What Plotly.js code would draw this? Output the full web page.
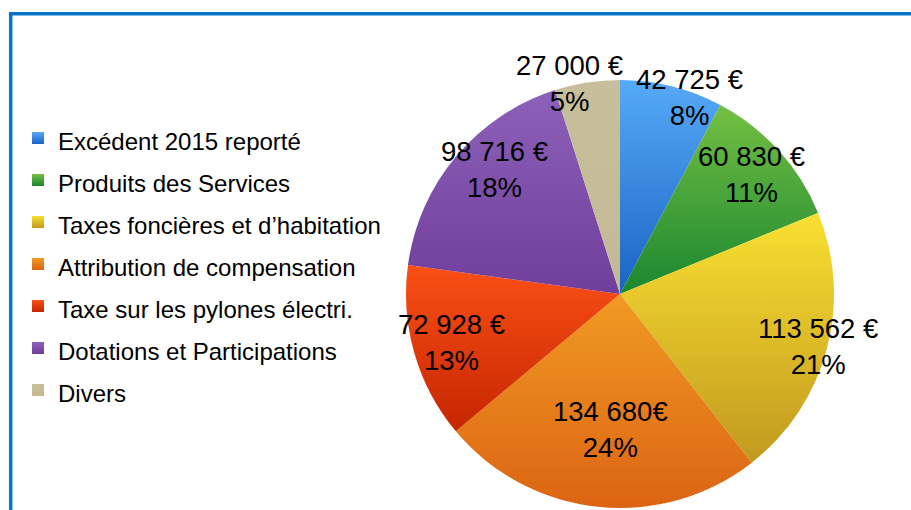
<!DOCTYPE html>
<html>
<head>
<meta charset="utf-8">
<script src="https://cdn.plot.ly/plotly-3.0.1.min.js"></script>
<style>
  html, body { margin: 0; padding: 0; background: #ffffff; }
  #chart { width: 911px; height: 510px; }
</style>
</head>
<body>
<div id="chart"></div>
<script>
// Data
var categories = [
  "Excédent 2015 reporté",
  "Produits des Services",
  "Taxes foncières et d’habitation",
  "Attribution de compensation",
  "Taxe sur les pylones électri.",
  "Dotations et Participations",
  "Divers"
];
var values = [42725, 60830, 113562, 134680, 72928, 98716, 27000];
var valueLabels = ["42 725 €", "60 830 €", "113 562 €", "134 680€", "72 928 €", "98 716 €", "27 000 €"];

// Styling
var colors = ["#3d8fe3", "#4aa53b", "#e2c52b", "#e67b1b", "#e6420f", "#7c4aa6", "#c6bd99"];
// vertical gradient (top, bottom) per slice, like the reference's shading
var gradTop = ["#56aaf7", "#74c043", "#f9e031", "#f09a22", "#fa5016", "#8c61b9", "#c7be9b"];
var gradBottom = ["#1a63c3", "#1b8630", "#c2991f", "#dc6414", "#c52500", "#703e9b", "#c3ba95"];
// label placement ("best fit" look): fraction of radius and angular nudge (deg)
var labelRadius = [0.973, 0.829, 0.957, 0.633, 0.818, 0.828, 1.011];
var labelAngleShift = [5.4, 0, 0, -2.2, 0, 4.8, -4.6];

var W = 911, H = 510;
var domX = [406 / W, 834 / W];
var domY = [2 / H, 430 / H];
var R = 214; // pie radius in px = half of the domain size

var legendLabels = categories.map(function (c) {
  return '<span style="font-size:24px">' + c + '</span>';
});

var total = values.reduce(function (a, b) { return a + b; }, 0);
var cx = (domX[0] + domX[1]) / 2, cy = (domY[0] + domY[1]) / 2;
var annotations = [];
var cum = 0;
values.forEach(function (v, i) {
  var mid = (cum + v / 2) / total * 360 + labelAngleShift[i];
  cum += v;
  var th = mid * Math.PI / 180;
  annotations.push({
    xref: "paper", yref: "paper",
    x: cx + labelRadius[i] * R * Math.sin(th) / W,
    y: cy + labelRadius[i] * R * Math.cos(th) / H,
    xanchor: "center", yanchor: "middle",
    align: "center",
    showarrow: false,
    text: valueLabels[i] + "<br>" + Math.round(v / total * 100) + "%",
    font: { family: "Liberation Sans, Arial, sans-serif", size: 27.5, color: "#000000" }
  });
});

var trace = {
  type: "pie",
  labels: legendLabels,
  values: values,
  textinfo: "none",
  sort: false,
  direction: "clockwise",
  rotation: 0,
  marker: { colors: colors, line: { width: 0 } },
  domain: { x: domX, y: domY },
  hoverinfo: "label+value+percent"
};

var layout = {
  width: W,
  height: H,
  margin: { l: 0, r: 0, t: 0, b: 0 },
  paper_bgcolor: "#ffffff",
  font: { family: "Liberation Sans, Arial, sans-serif", color: "#000000" },
  showlegend: true,
  legend: {
    x: 18 / W,
    xanchor: "left",
    y: (H - 112) / H,
    yanchor: "top",
    font: { size: 30, color: "#000000", family: "Liberation Sans, Arial, sans-serif" },
    bgcolor: "rgba(0,0,0,0)",
    traceorder: "normal"
  },
  annotations: annotations,
  shapes: [
    {
      type: "rect",
      xref: "paper", yref: "paper",
      x0: 10.7 / W, x1: 1.05,
      y0: -0.05, y1: (H - 13.7) / H,
      line: { color: "#0a74c8", width: 3.5 },
      fillcolor: "rgba(0,0,0,0)",
      layer: "below"
    }
  ]
};

Plotly.newPlot("chart", [trace], layout, { staticPlot: true, displayModeBar: false }).then(function (gd) {
  var ns = "http://www.w3.org/2000/svg";
  var svg = gd.querySelector("svg.main-svg");
  if (!svg) return;
  var defs = svg.querySelector("defs");
  if (!defs) { defs = document.createElementNS(ns, "defs"); svg.insertBefore(defs, svg.firstChild); }
  gradTop.forEach(function (top, i) {
    var lg = document.createElementNS(ns, "linearGradient");
    lg.setAttribute("id", "sliceGrad" + i);
    lg.setAttribute("x1", "0"); lg.setAttribute("y1", "0");
    lg.setAttribute("x2", "0"); lg.setAttribute("y2", "1");
    [[0, top], [1, gradBottom[i]]].forEach(function (s) {
      var st = document.createElementNS(ns, "stop");
      st.setAttribute("offset", s[0]);
      st.setAttribute("stop-color", s[1]);
      lg.appendChild(st);
    });
    defs.appendChild(lg);
  });
  gd.querySelectorAll("g.slice path.surface").forEach(function (p, i) {
    if (i < gradTop.length) p.style.fill = "url(#sliceGrad" + i + ")";
  });
  gd.querySelectorAll("g.legend g.traces").forEach(function (t, i) {
    var p = t.querySelector("g.legendpoints path");
    if (p && i < gradTop.length) p.style.fill = "url(#sliceGrad" + i + ")";
  });
});
</script>
</body>
</html>
